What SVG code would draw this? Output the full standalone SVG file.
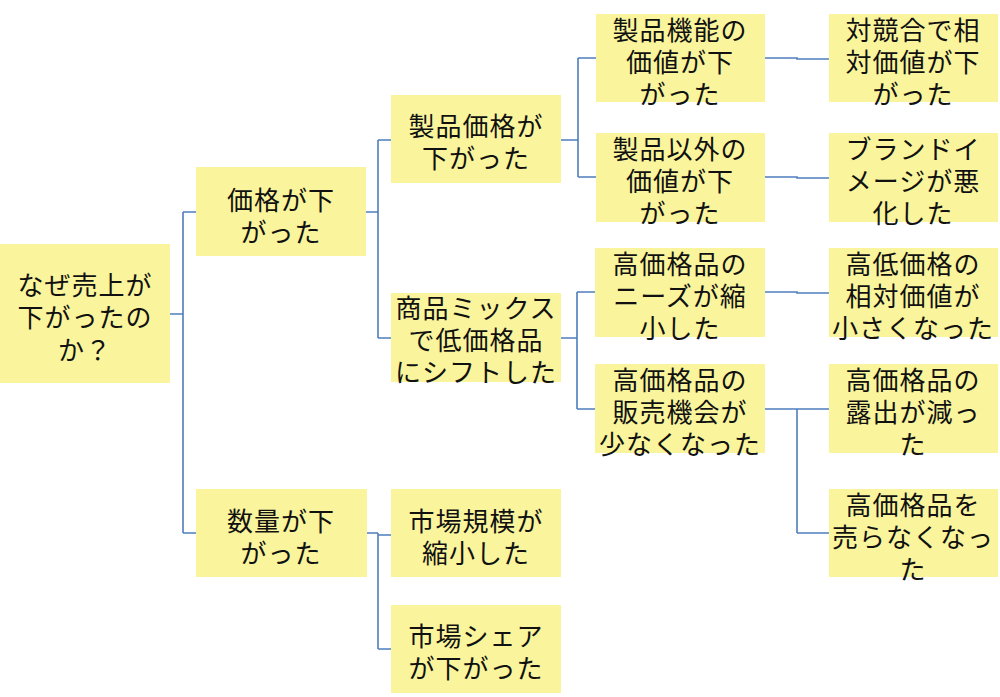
<svg xmlns="http://www.w3.org/2000/svg" width="1000" height="697" viewBox="0 0 1000 697">
<style>
.box{fill:#FAF59C;}
.t{font-family:"Noto Sans CJK JP","Noto Sans CJK SC",sans-serif;font-size:26px;letter-spacing:1px;fill:#111;text-anchor:middle;dominant-baseline:central;}
.c{fill:none;stroke:#4E7EBC;stroke-width:1.6;}
</style>
<rect width="1000" height="697" fill="#fff"/>
<g id="connectors" class="c">
<path d="M170,314H183M183,212V533M183,212H196M183,533H196"/>
<path d="M366,212H378M378,140V338M378,140H391M378,338H391"/>
<path d="M367,533H378M378,533V649M378,535H391M378,649H391"/>
<path d="M561,140H578M578,58V177M578,58H596M578,177H596"/>
<path d="M561,338H577M577,292V409M577,292H595M577,409H595"/>
<path d="M765,58H797V59H829"/>
<path d="M765,177H797V178H829"/>
<path d="M765,292H797V293H829"/>
<path d="M765,409H797M797,409V533M797,409H829M797,533H829"/>
</g>
<g id="n-root"><rect class="box" x="0" y="244" width="170" height="139"/>
<text class="t" x="85" y="283">なぜ売上が</text><text class="t" x="85" y="315">下がったの</text><text class="t" x="85" y="348">か？</text></g>
<g id="n-kakaku"><rect class="box" x="196" y="167" width="170" height="89"/>
<text class="t" x="281" y="198">価格が下</text><text class="t" x="281" y="230">がった</text></g>
<g id="n-suryo"><rect class="box" x="196" y="489" width="171" height="88"/>
<text class="t" x="281" y="519">数量が下</text><text class="t" x="281" y="551">がった</text></g>
<g id="n-seihinkakaku"><rect class="box" x="391" y="95" width="170" height="88"/>
<text class="t" x="476" y="124">製品価格が</text><text class="t" x="476" y="156">下がった</text></g>
<g id="n-mix"><rect class="box" x="391" y="293" width="170" height="89"/>
<text class="t" x="476" y="306">商品ミックス</text><text class="t" x="476" y="338">で低価格品</text><text class="t" x="476" y="370">にシフトした</text></g>
<g id="n-shijokibo"><rect class="box" x="391" y="489" width="170" height="88"/>
<text class="t" x="476" y="519">市場規模が</text><text class="t" x="476" y="551">縮小した</text></g>
<g id="n-share"><rect class="box" x="391" y="605" width="170" height="88"/>
<text class="t" x="476" y="634">市場シェア</text><text class="t" x="476" y="666">が下がった</text></g>
<g id="n-kino"><rect class="box" x="596" y="14" width="169" height="88"/>
<text class="t" x="680" y="28">製品機能の</text><text class="t" x="680" y="60">価値が下</text><text class="t" x="680" y="92">がった</text></g>
<g id="n-igai"><rect class="box" x="596" y="133" width="169" height="89"/>
<text class="t" x="680" y="147">製品以外の</text><text class="t" x="680" y="179">価値が下</text><text class="t" x="680" y="211">がった</text></g>
<g id="n-needs"><rect class="box" x="595" y="248" width="170" height="89"/>
<text class="t" x="680" y="262">高価格品の</text><text class="t" x="680" y="294">ニーズが縮</text><text class="t" x="680" y="326">小した</text></g>
<g id="n-hanbai"><rect class="box" x="595" y="364" width="170" height="89"/>
<text class="t" x="680" y="378">高価格品の</text><text class="t" x="680" y="410">販売機会が</text><text class="t" x="680" y="442">少なくなった</text></g>
<g id="n-kyogo"><rect class="box" x="829" y="14" width="169" height="88"/>
<text class="t" x="913" y="28">対競合で相</text><text class="t" x="913" y="60">対価値が下</text><text class="t" x="913" y="92">がった</text></g>
<g id="n-brand"><rect class="box" x="829" y="133" width="169" height="89"/>
<text class="t" x="913" y="147">ブランドイ</text><text class="t" x="913" y="179">メージが悪</text><text class="t" x="913" y="211">化した</text></g>
<g id="n-koutei"><rect class="box" x="829" y="248" width="169" height="89"/>
<text class="t" x="913" y="262">高低価格の</text><text class="t" x="913" y="294">相対価値が</text><text class="t" x="913" y="326">小さくなった</text></g>
<g id="n-roshutsu"><rect class="box" x="829" y="364" width="169" height="89"/>
<text class="t" x="913" y="378">高価格品の</text><text class="t" x="913" y="410">露出が減っ</text><text class="t" x="913" y="442">た</text></g>
<g id="n-uranaku"><rect class="box" x="829" y="489" width="169" height="88"/>
<text class="t" x="913" y="503">高価格品を</text><text class="t" x="913" y="535">売らなくなっ</text><text class="t" x="913" y="567">た</text></g>
</svg>
